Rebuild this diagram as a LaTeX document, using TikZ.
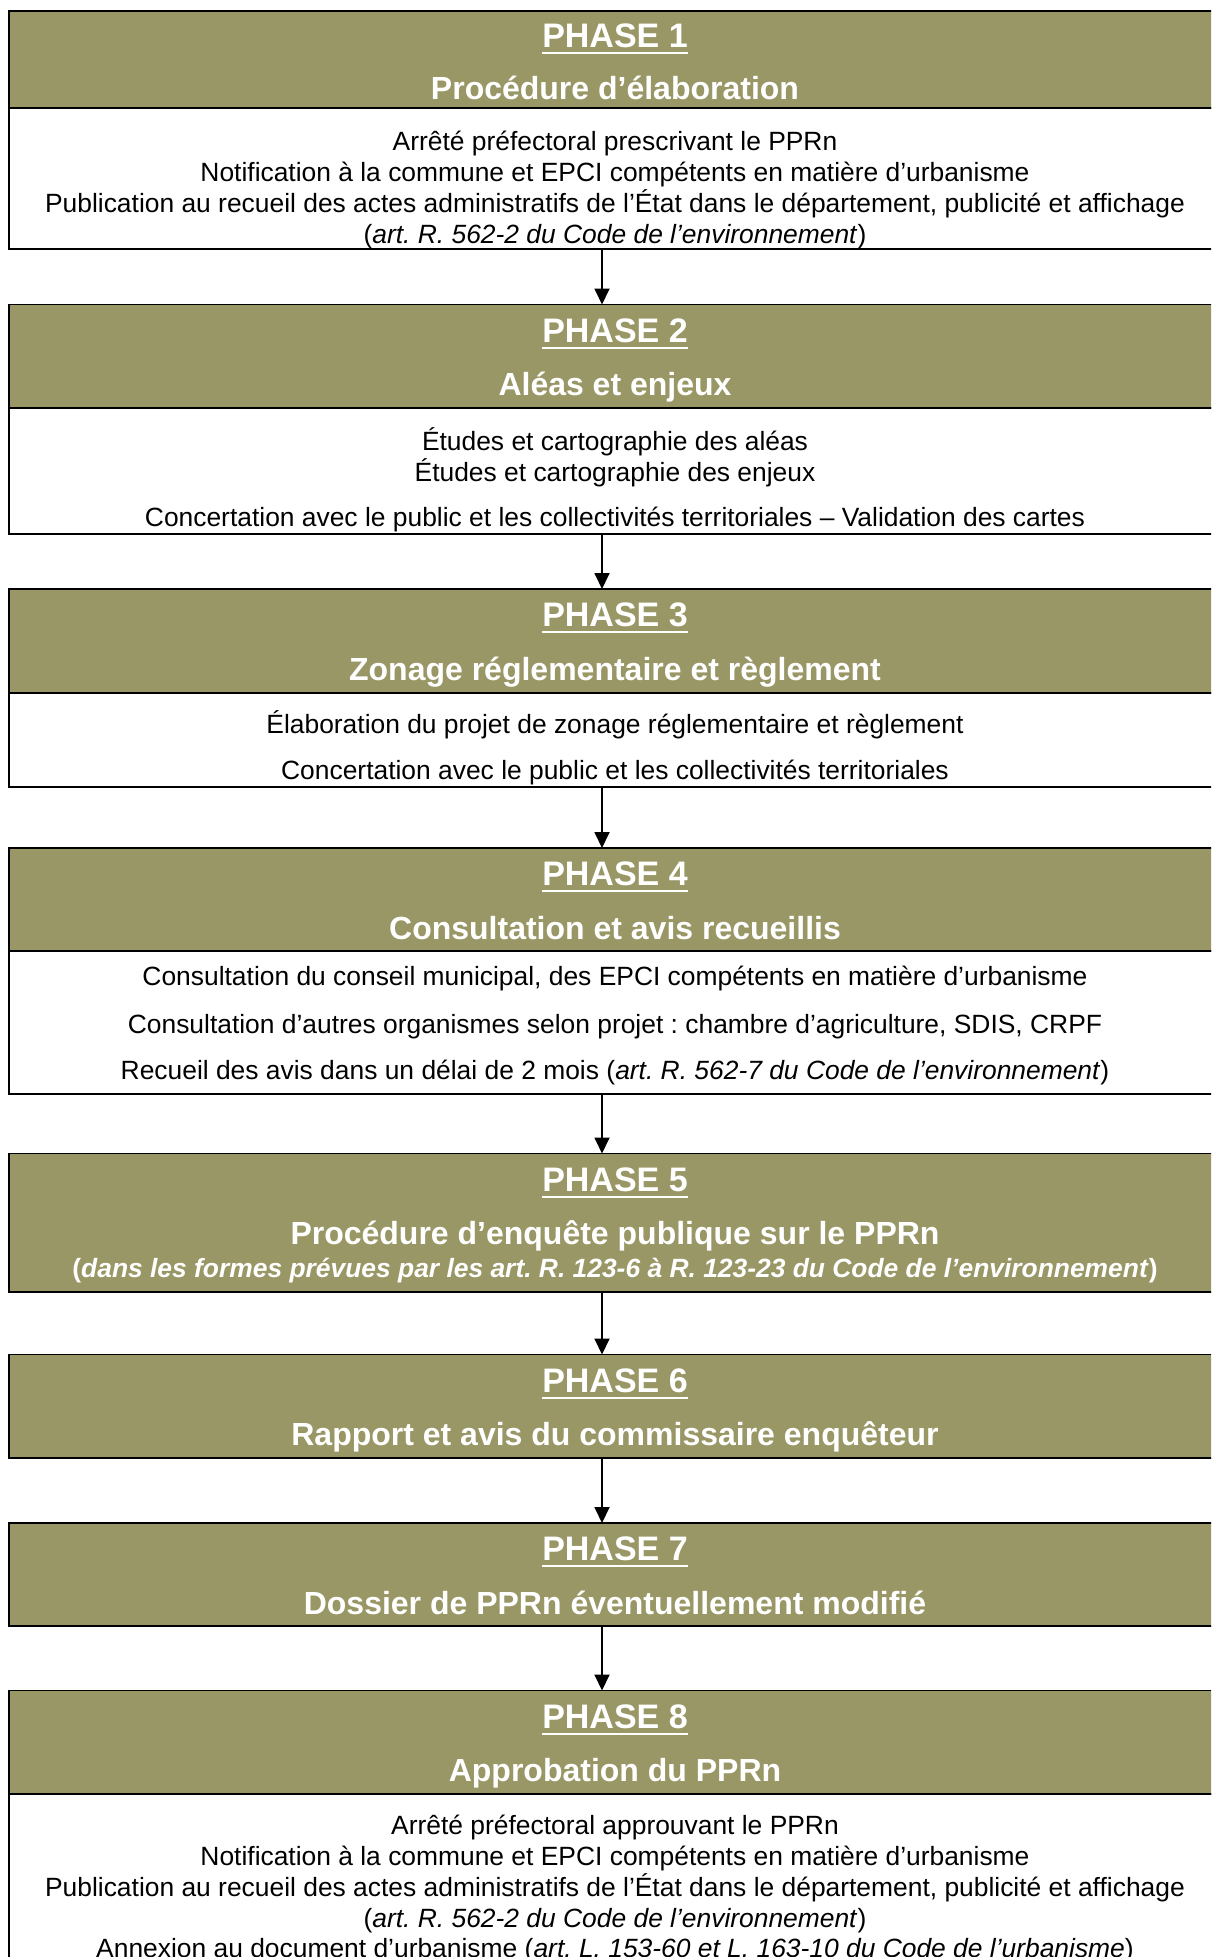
\documentclass[tikz,border=0pt]{standalone}
\usepackage{fontspec}
\setmainfont{Liberation Sans}
\frenchspacing
\usetikzlibrary{arrows.meta}
\definecolor{olive}{RGB}{153,151,101}
\tikzset{
  hdr/.style={draw=black, line width=1.6pt, fill=olive, minimum width=1212pt, anchor=north west, inner sep=0pt, outer sep=0pt},
  bodybox/.style={draw=black, line width=1.6pt, fill=white, minimum width=1212pt, anchor=north west, inner sep=0pt, outer sep=0pt},
  ph/.style={anchor=base, inner sep=0pt, text=white, font=\fontsize{34}{40}\selectfont\bfseries},
  subt/.style={anchor=base, inner sep=0pt, text=white, font=\fontsize{32}{38}\selectfont\bfseries},
  txt/.style={anchor=base, inner sep=0pt, font=\fontsize{26.4}{31}\selectfont},
  link/.style={line width=1.8pt, -{Triangle[length=16pt,width=15pt]}},
  ul/.style={white, line width=2pt}
}
\newcommand{\phasehead}[5]{% name, top, height, number, subtitle
  \node[hdr, minimum height=#3pt] (h#1) at (9,#2) {};
  \node[ph] (p#1) at (615,#2+37.5) {PHASE #4};
  \draw[ul] ([yshift=-5.5pt]p#1.base west) -- ([yshift=-5.5pt]p#1.base east);
  \node[subt] (s#1) at (615,#2+91) {#5};
}
\begin{document}
\begin{tikzpicture}[x=1pt,y=-1pt]
\useasboundingbox (0,0) rectangle (1211,1957);
\clip (0,0) rectangle (1211,1957);
\fill[white] (0,0) rectangle (1211,1957);
\coordinate (ax) at (602,0);

% PHASE 1
\node[bodybox, minimum height=141pt] (b1) at (9,108) {};
\node[hdr, minimum height=97pt] (h1) at (9,11) {};
\node[ph] (p1) at (615,47.5) {PHASE 1};
\draw[ul] ([yshift=-5.5pt]p1.base west) -- ([yshift=-5.5pt]p1.base east);
\node[subt] (s1) at (615,99.5) {Procédure d’élaboration};
\node[txt] (t11) at (615,150.5) {Arrêté préfectoral prescrivant le PPRn};
\node[txt] (t12) at (615,181.5) {Notification à la commune et EPCI compétents en matière d’urbanisme};
\node[txt] (t13) at (615,212.5) {Publication au recueil des actes administratifs de l’État dans le département, publicité et affichage};
\node[txt] (t14) at (615,243) {(\textit{art. R. 562-2 du Code de l’environnement})};

% PHASE 2
\node[bodybox, minimum height=126pt] (b2) at (9,408) {};
\phasehead{2}{304.5}{103.5}{2}{Aléas et enjeux}
\node[txt] (t21) at (615,450.5) {Études et cartographie des aléas};
\node[txt] (t22) at (615,481.5) {Études et cartographie des enjeux};
\node[txt] (t23) at (615,526.5) {Concertation avec le public et les collectivités territoriales – Validation des cartes};

% PHASE 3
\node[bodybox, minimum height=94pt] (b3) at (9,693) {};
\phasehead{3}{589}{104}{3}{Zonage réglementaire et règlement}
\node[txt] (t31) at (615,733.5) {Élaboration du projet de zonage réglementaire et règlement};
\node[txt] (t32) at (615,779.5) {Concertation avec le public et les collectivités territoriales};

% PHASE 4
\node[bodybox, minimum height=143pt] (b4) at (9,951) {};
\phasehead{4}{848}{103}{4}{Consultation et avis recueillis}
\node[txt] (t41) at (615,985.5) {Consultation du conseil municipal, des EPCI compétents en matière d’urbanisme};
\node[txt] (t42) at (615,1033.5) {Consultation d’autres organismes selon projet : chambre d’agriculture, SDIS, CRPF};
\node[txt] (t43) at (615,1079.5) {Recueil des avis dans un délai de 2 mois (\textit{art. R. 562-7 du Code de l’environnement})};

% PHASE 5
\phasehead{5}{1153.5}{138.5}{5}{Procédure d’enquête publique sur le PPRn}
\node[txt, text=white, font=\fontsize{26.4}{31}\selectfont\bfseries] (t51) at (615,1277.5) {(\textit{dans les formes prévues par les art. R. 123-6 à R. 123-23 du Code de l’environnement})};

% PHASE 6
\phasehead{6}{1354.5}{103.5}{6}{Rapport et avis du commissaire enquêteur}

% PHASE 7
\phasehead{7}{1523}{103}{7}{Dossier de PPRn éventuellement modifié}

% PHASE 8
\node[bodybox, minimum height=220pt] (b8) at (9,1794) {};
\phasehead{8}{1690.5}{103.5}{8}{Approbation du PPRn}
\node[txt] (t81) at (615,1834.5) {Arrêté préfectoral approuvant le PPRn};
\node[txt] (t82) at (615,1865.5) {Notification à la commune et EPCI compétents en matière d’urbanisme};
\node[txt] (t83) at (615,1896.5) {Publication au recueil des actes administratifs de l’État dans le département, publicité et affichage};
\node[txt] (t84) at (615,1927) {(\textit{art. R. 562-2 du Code de l’environnement})};
\node[txt] (t85) at (615,1957) {Annexion au document d’urbanisme (\textit{art. L. 153-60 et L. 163-10 du Code de l’urbanisme})};

% connectors
\draw[link] (b1.south -| ax) -- (h2.north -| ax);
\draw[link] (b2.south -| ax) -- (h3.north -| ax);
\draw[link] (b3.south -| ax) -- (h4.north -| ax);
\draw[link] (b4.south -| ax) -- (h5.north -| ax);
\draw[link] (h5.south -| ax) -- (h6.north -| ax);
\draw[link] (h6.south -| ax) -- (h7.north -| ax);
\draw[link] (h7.south -| ax) -- (h8.north -| ax);
\end{tikzpicture}
\end{document}
